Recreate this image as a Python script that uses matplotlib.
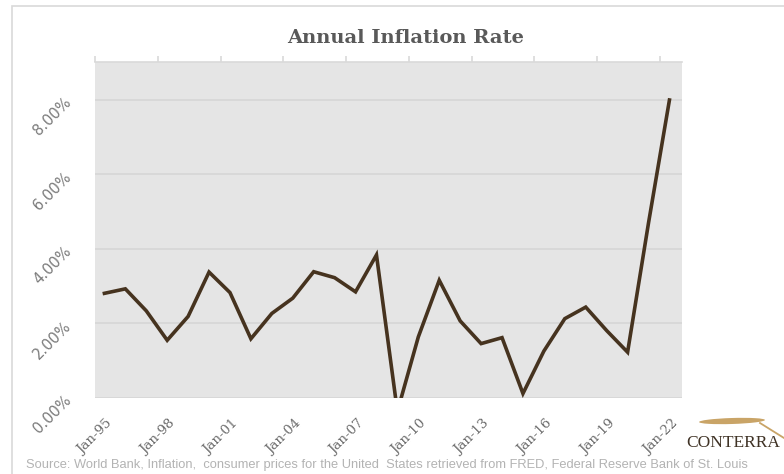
import matplotlib.pyplot as plt
import matplotlib.patches as mpatches
import matplotlib.transforms as mtransforms
from matplotlib.ticker import FuncFormatter, MultipleLocator

# US annual inflation, consumer prices (%)
years = list(range(1995, 2023))
inflation = [2.81, 2.93, 2.34, 1.55, 2.19, 3.38, 2.83, 1.59, 2.27, 2.68,
             3.39, 3.23, 2.85, 3.84, -0.36, 1.64, 3.16, 2.07, 1.46, 1.62,
             0.12, 1.26, 2.13, 2.44, 1.81, 1.23, 4.70, 8.00]
tick_years = list(range(1995, 2023, 3))
tick_labels = ["Jan-%02d" % (y % 100) for y in tick_years]

fig = plt.figure(figsize=(7.84, 4.74), dpi=100)

# outer chart border
fig.patches.append(mpatches.Rectangle((12 / 784, -0.05), 1.0, 1 - 6 / 474 + 0.05,
                                      transform=fig.transFigure, fill=False,
                                      edgecolor="#d9d9d9", linewidth=1.2))

ax = fig.add_axes([95 / 784, 76 / 474, 587 / 784, 336 / 474])
ax.set_facecolor("#e5e5e5")

# points sit mid-year on the date axis
xs = [y + 0.45 for y in years]
ax.plot(xs, inflation, color="#46331f", linewidth=2.6, solid_joinstyle="miter",
        clip_on=True)

ax.set_xlim(1995, 2023.05)
ax.set_ylim(0, 9.02)
ax.yaxis.set_major_locator(MultipleLocator(2))
ax.yaxis.set_major_formatter(FuncFormatter(lambda v, p: "%.2f%%" % v))
ax.grid(axis="y", color="#d6d6d6", linewidth=1.2)
ax.set_axisbelow(True)

for s in ["left", "right", "bottom"]:
    ax.spines[s].set_visible(False)
ax.spines["top"].set_color("#d9d9d9")
ax.spines["top"].set_linewidth(1.2)

# tick marks along the top edge, labels underneath
ax.set_xticks(tick_years)
ax.tick_params(axis="x", top=True, bottom=False, labeltop=False, labelbottom=True,
               direction="out", length=4, color="#d9d9d9", width=1.2, pad=10)
ax.set_xticklabels(tick_labels, rotation=45, ha="right", va="top",
                   rotation_mode="anchor", fontsize=9.5, color="#6b6b6b",
                   family="DejaVu Serif")
shift = mtransforms.ScaledTranslation(11 / 100, 0, fig.dpi_scale_trans)
for lab in ax.get_xticklabels():
    lab.set_transform(lab.get_transform() + shift)

ax.tick_params(axis="y", length=0, pad=19)
for lab in ax.get_yticklabels():
    lab.set_rotation(45)
    lab.set_rotation_mode("anchor")
    lab.set_fontsize(10.5)
    lab.set_color("#7a7a7a")
    lab.set_ha("right")
    lab.set_va("center")

fig.text(406 / 784, 1 - 38 / 474, "Annual Inflation Rate", ha="center", va="center",
         fontsize=14, fontweight="bold", color="#595959", family="DejaVu Serif")

fig.text(26 / 784, 1 - 465 / 474,
         "Source: World Bank, Inflation,  consumer prices for the United  States "
         "retrieved from FRED, Federal Reserve Bank of St. Louis",
         ha="left", va="center", fontsize=9.3, color="#b3b3b3", family="Liberation Sans")

# logo: wheat ear and wordmark
wheat = mpatches.Ellipse((732 / 784, 1 - 421 / 474), 66 / 784, 6 / 474, angle=3,
                         transform=fig.transFigure, facecolor="#c9a467",
                         edgecolor="none")
fig.patches.append(wheat)
fig.add_artist(plt.Line2D([760 / 784, 784 / 784], [1 - 423 / 474, 1 - 438 / 474],
                          transform=fig.transFigure, color="#c9a467", linewidth=1.3))
fig.text(686 / 784, 1 - 443 / 474, "CONTERRA", ha="left", va="center",
         fontsize=12.5, color="#3f3225", family="Liberation Serif")

fig.savefig("out.png", dpi=100)
